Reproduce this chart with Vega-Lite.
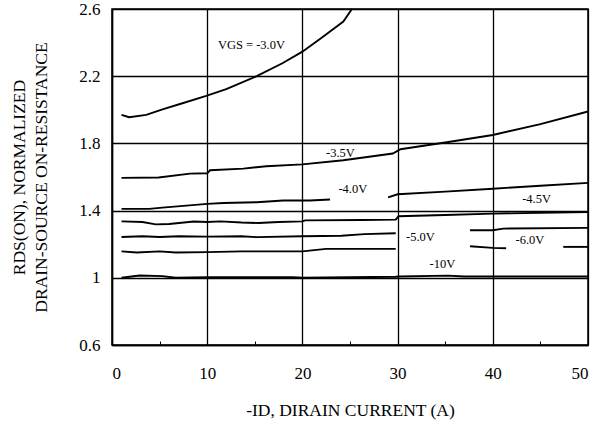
{
  "$schema": "https://vega.github.io/schema/vega-lite/v6.json",
  "width": 476,
  "height": 336,
  "autosize": "none",
  "padding": {"left": 112, "top": 9, "right": 19, "bottom": 78},
  "background": "white",
  "config": {
    "font": "Liberation Serif",
    "view": {"stroke": "black", "strokeWidth": 1.5}
  },
  "layer": [
    {
      "data": {
        "values": [
          {"seg": "3.0", "x": 1.0, "y": 1.97},
          {"seg": "3.0", "x": 1.8, "y": 1.956},
          {"seg": "3.0", "x": 3.6, "y": 1.97},
          {"seg": "3.0", "x": 5.3, "y": 2.003},
          {"seg": "3.0", "x": 7.4, "y": 2.039},
          {"seg": "3.0", "x": 9.9, "y": 2.083},
          {"seg": "3.0", "x": 12.0, "y": 2.123},
          {"seg": "3.0", "x": 15.2, "y": 2.2},
          {"seg": "3.0", "x": 17.9, "y": 2.277},
          {"seg": "3.0", "x": 20.0, "y": 2.346},
          {"seg": "3.0", "x": 22.2, "y": 2.436},
          {"seg": "3.0", "x": 24.3, "y": 2.525},
          {"seg": "3.0", "x": 25.2, "y": 2.6},

          {"seg": "3.5", "x": 1.0, "y": 1.595},
          {"seg": "3.5", "x": 4.9, "y": 1.597},
          {"seg": "3.5", "x": 8.2, "y": 1.62},
          {"seg": "3.5", "x": 10.0, "y": 1.622},
          {"seg": "3.5", "x": 10.3, "y": 1.64},
          {"seg": "3.5", "x": 13.8, "y": 1.65},
          {"seg": "3.5", "x": 16.2, "y": 1.664},
          {"seg": "3.5", "x": 20.0, "y": 1.675},
          {"seg": "3.5", "x": 24.3, "y": 1.7},
          {"seg": "3.5", "x": 29.5, "y": 1.74},
          {"seg": "3.5", "x": 30.3, "y": 1.765},
          {"seg": "3.5", "x": 35.0, "y": 1.805},
          {"seg": "3.5", "x": 40.0, "y": 1.85},
          {"seg": "3.5", "x": 45.0, "y": 1.915},
          {"seg": "3.5", "x": 50.0, "y": 1.99},

          {"seg": "4.0a", "x": 1.0, "y": 1.41},
          {"seg": "4.0a", "x": 3.9, "y": 1.41},
          {"seg": "4.0a", "x": 5.3, "y": 1.418},
          {"seg": "4.0a", "x": 10.0, "y": 1.44},
          {"seg": "4.0a", "x": 11.7, "y": 1.445},
          {"seg": "4.0a", "x": 15.2, "y": 1.45},
          {"seg": "4.0a", "x": 18.0, "y": 1.46},
          {"seg": "4.0a", "x": 20.8, "y": 1.46},
          {"seg": "4.0a", "x": 22.9, "y": 1.466},
          {"seg": "4.0b", "x": 29.0, "y": 1.479},
          {"seg": "4.0b", "x": 30.0, "y": 1.497},
          {"seg": "4.0b", "x": 35.0, "y": 1.513},
          {"seg": "4.0b", "x": 40.0, "y": 1.53},
          {"seg": "4.0b", "x": 45.0, "y": 1.548},
          {"seg": "4.0b", "x": 50.0, "y": 1.565},

          {"seg": "4.5", "x": 1.0, "y": 1.336},
          {"seg": "4.5", "x": 3.2, "y": 1.332},
          {"seg": "4.5", "x": 4.6, "y": 1.318},
          {"seg": "4.5", "x": 6.0, "y": 1.32},
          {"seg": "4.5", "x": 8.6, "y": 1.335},
          {"seg": "4.5", "x": 10.0, "y": 1.332},
          {"seg": "4.5", "x": 11.4, "y": 1.336},
          {"seg": "4.5", "x": 13.6, "y": 1.329},
          {"seg": "4.5", "x": 15.4, "y": 1.326},
          {"seg": "4.5", "x": 17.5, "y": 1.332},
          {"seg": "4.5", "x": 20.0, "y": 1.336},
          {"seg": "4.5", "x": 20.3, "y": 1.342},
          {"seg": "4.5", "x": 26.2, "y": 1.344},
          {"seg": "4.5", "x": 29.8, "y": 1.346},
          {"seg": "4.5", "x": 30.1, "y": 1.366},
          {"seg": "4.5", "x": 35.0, "y": 1.374},
          {"seg": "4.5", "x": 40.0, "y": 1.382},
          {"seg": "4.5", "x": 50.0, "y": 1.392},

          {"seg": "5.0a", "x": 1.0, "y": 1.243},
          {"seg": "5.0a", "x": 3.2, "y": 1.247},
          {"seg": "5.0a", "x": 5.0, "y": 1.243},
          {"seg": "5.0a", "x": 7.0, "y": 1.247},
          {"seg": "5.0a", "x": 10.0, "y": 1.245},
          {"seg": "5.0a", "x": 13.6, "y": 1.247},
          {"seg": "5.0a", "x": 15.2, "y": 1.242},
          {"seg": "5.0a", "x": 20.0, "y": 1.247},
          {"seg": "5.0a", "x": 24.1, "y": 1.25},
          {"seg": "5.0a", "x": 26.5, "y": 1.26},
          {"seg": "5.0a", "x": 29.8, "y": 1.265},
          {"seg": "5.0b", "x": 37.6, "y": 1.283},
          {"seg": "5.0b", "x": 40.0, "y": 1.283},
          {"seg": "5.0b", "x": 41.1, "y": 1.293},
          {"seg": "5.0b", "x": 50.0, "y": 1.297},

          {"seg": "6.0a", "x": 1.0, "y": 1.157},
          {"seg": "6.0a", "x": 2.6, "y": 1.151},
          {"seg": "6.0a", "x": 5.0, "y": 1.157},
          {"seg": "6.0a", "x": 6.7, "y": 1.151},
          {"seg": "6.0a", "x": 10.0, "y": 1.153},
          {"seg": "6.0a", "x": 13.6, "y": 1.157},
          {"seg": "6.0a", "x": 20.0, "y": 1.157},
          {"seg": "6.0a", "x": 22.5, "y": 1.172},
          {"seg": "6.0a", "x": 26.2, "y": 1.172},
          {"seg": "6.0a", "x": 29.8, "y": 1.172},
          {"seg": "6.0b", "x": 37.6, "y": 1.188},
          {"seg": "6.0b", "x": 40.0, "y": 1.178},
          {"seg": "6.0b", "x": 41.4, "y": 1.176},
          {"seg": "6.0c", "x": 47.4, "y": 1.184},
          {"seg": "6.0c", "x": 50.0, "y": 1.184},

          {"seg": "10", "x": 1.0, "y": 1.0},
          {"seg": "10", "x": 2.9, "y": 1.014},
          {"seg": "10", "x": 5.3, "y": 1.01},
          {"seg": "10", "x": 6.7, "y": 1.0},
          {"seg": "10", "x": 10.0, "y": 1.004},
          {"seg": "10", "x": 15.2, "y": 1.004},
          {"seg": "10", "x": 19.0, "y": 1.004},
          {"seg": "10", "x": 20.0, "y": 1.0},
          {"seg": "10", "x": 29.8, "y": 1.006},
          {"seg": "10", "x": 30.2, "y": 1.008},
          {"seg": "10", "x": 35.3, "y": 1.013},
          {"seg": "10", "x": 37.0, "y": 1.008},
          {"seg": "10", "x": 50.0, "y": 1.008}
        ]
      },
      "mark": {"type": "line", "color": "black", "strokeWidth": 1.9},
      "encoding": {
        "x": {
          "field": "x",
          "type": "quantitative",
          "scale": {"domain": [0, 50], "nice": false},
          "axis": {
            "values": [0, 5, 10, 15, 20, 25, 30, 35, 40, 45, 50],
            "labelExpr": "datum.value % 10 == 0 ? datum.label : ''",
            "grid": true,
            "gridColor": "black",
            "gridWidth": 1.3,
            "gridOpacity": {"condition": {"test": "datum.value % 10 == 0", "value": 1}, "value": 0},
            "domainColor": "black",
            "domainWidth": 1.5,
            "tickColor": "black",
            "tickSize": -4,
            "labelFont": "Liberation Serif",
            "labelFontSize": 17,
            "labelColor": "black",
            "labelPadding": 24,
            "title": "-ID, DIRAIN CURRENT (A)",
            "titleFont": "Liberation Serif",
            "titleFontSize": 17.5,
            "titleFontWeight": "normal",
            "titleColor": "black",
            "titlePadding": 20
          }
        },
        "y": {
          "field": "y",
          "type": "quantitative",
          "scale": {"domain": [0.6, 2.6], "nice": false, "zero": false},
          "axis": {
            "values": [0.6, 0.8, 1.0, 1.2, 1.4, 1.6, 1.8, 2.0, 2.2, 2.4, 2.6],
            "labelExpr": "round(datum.value*10) % 4 == 2 ? format(datum.value, '~g') : ''",
            "grid": true,
            "gridColor": "black",
            "gridWidth": 1.3,
            "gridOpacity": {"condition": {"test": "round(datum.value*10) % 4 == 2", "value": 1}, "value": 0},
            "domainColor": "black",
            "domainWidth": 1.5,
            "tickColor": "black",
            "tickSize": -4,
            "labelFont": "Liberation Serif",
            "labelFontSize": 17,
            "labelColor": "black",
            "labelPadding": 16,
            "title": ["RDS(ON), NORMALIZED", "DRAIN-SOURCE ON-RESISTANCE"],
            "titleFont": "Liberation Serif",
            "titleFontSize": 17.5,
            "titleFontWeight": "normal",
            "titleColor": "black",
            "titleLineHeight": 22,
            "titlePadding": 28
          }
        },
        "detail": {"field": "seg", "type": "nominal"}
      }
    },
    {
      "data": {
        "values": [
          {"label": "VGS = -3.0V", "x": 14.65, "y": 2.386},
          {"label": "-3.5V", "x": 24.0, "y": 1.744},
          {"label": "-4.0V", "x": 25.3, "y": 1.53},
          {"label": "-4.5V", "x": 44.6, "y": 1.47},
          {"label": "-5.0V", "x": 32.4, "y": 1.24},
          {"label": "-6.0V", "x": 43.9, "y": 1.223},
          {"label": "-10V", "x": 34.7, "y": 1.085}
        ]
      },
      "mark": {"type": "text", "font": "Liberation Serif", "fontSize": 12.5, "color": "black", "align": "center", "baseline": "middle"},
      "encoding": {
        "x": {"field": "x", "type": "quantitative"},
        "y": {"field": "y", "type": "quantitative"},
        "text": {"field": "label"}
      }
    }
  ]
}
